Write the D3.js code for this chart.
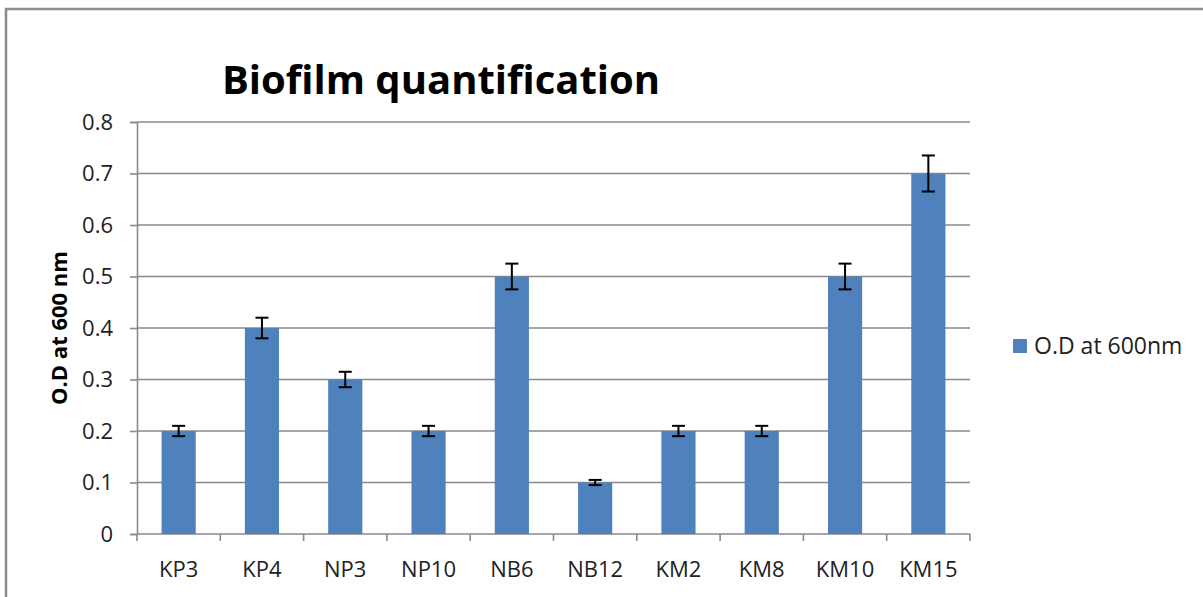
<!DOCTYPE html>
<html lang="en">
<head>
  <meta charset="UTF-8">
  <title>Biofilm quantification</title>
  <script src="https://d3js.org/d3.v7.min.js"></script>
  <style>
    body { margin: 0; background: #fff; }
    text { font-family: "Open Sans", "Noto Sans", sans-serif; fill: #222; }
    .grid line { stroke: #8a8a8a; stroke-width: 1.6; }
    .axis path, .axis line { stroke: #8a8a8a; stroke-width: 1.6; }
  </style>
</head>
<body>
  <div id="chart"></div>
  <script>
  var strains = ["KP3", "KP4", "NP3", "NP10", "NB6", "NB12", "KM2", "KM8", "KM10", "KM15"];
  var odValues = [0.2, 0.4, 0.3, 0.2, 0.5, 0.1, 0.2, 0.2, 0.5, 0.7];
  var odErrors = [0.01, 0.02, 0.015, 0.01, 0.025, 0.005, 0.01, 0.01, 0.025, 0.035];
  var yTicks = [0, 0.1, 0.2, 0.3, 0.4, 0.5, 0.6, 0.7, 0.8];

  var w = 1203, h = 597;
  var margin = {top: 122, right: 233, bottom: 63, left: 137};

  var svg = d3.select("#chart").append("svg")
    .attr("width", w)
    .attr("height", h);

  // chart frame (runs off the right/bottom edge in the original)
  svg.append("rect")
    .attr("x", 6).attr("y", 9)
    .attr("width", 1300).attr("height", 700)
    .attr("fill", "none")
    .attr("stroke", "#8c8c8c")
    .attr("stroke-width", 2.5);

  var x = d3.scaleBand()
    .domain(strains)
    .range([margin.left, w - margin.right])
    .paddingInner(0.59)
    .paddingOuter(0.295);

  var y = d3.scaleLinear()
    .domain([0, 0.8])
    .range([h - margin.bottom, margin.top]);

  // horizontal gridlines
  svg.append("g").attr("class", "grid")
    .selectAll("line")
    .data(yTicks.slice(1))
    .enter().append("line")
    .attr("x1", margin.left).attr("x2", w - margin.right)
    .attr("y1", d => y(d)).attr("y2", d => y(d));

  // y axis
  var yAxis = svg.append("g").attr("class", "axis")
    .attr("transform", "translate(" + margin.left + ",0)")
    .call(d3.axisLeft(y).tickValues(yTicks).tickSize(7).tickPadding(17)
      .tickFormat(d => d === 0 ? "0" : d3.format(".1f")(d)));
  yAxis.selectAll("text").style("font-size", "22px");

  // x axis with ticks at band edges
  var xAxis = svg.append("g").attr("class", "axis")
    .attr("transform", "translate(0," + y(0) + ")");
  xAxis.append("line")
    .attr("x1", margin.left).attr("x2", w - margin.right);
  var step = x.step();
  xAxis.selectAll(".edge")
    .data(d3.range(strains.length + 1))
    .enter().append("line")
    .attr("x1", i => margin.left + i * step)
    .attr("x2", i => margin.left + i * step)
    .attr("y1", 0).attr("y2", 7);
  xAxis.selectAll(".lbl")
    .data(strains)
    .enter().append("text")
    .attr("x", d => x(d) + x.bandwidth() / 2)
    .attr("y", 43)
    .attr("text-anchor", "middle")
    .style("font-size", "22px")
    .text(d => d);

  // bars
  svg.append("g")
    .selectAll("rect")
    .data(strains)
    .enter().append("rect")
    .attr("x", d => x(d))
    .attr("y", (d, i) => y(odValues[i]))
    .attr("width", x.bandwidth())
    .attr("height", (d, i) => y(0) - y(odValues[i]))
    .attr("fill", "#4f81bd");

  // error bars
  var err = svg.append("g").attr("stroke", "#000").attr("stroke-width", 2);
  strains.forEach(function(s, i) {
    var cx = x(s) + x.bandwidth() / 2;
    var hi = y(odValues[i] + odErrors[i]), lo = y(odValues[i] - odErrors[i]);
    err.append("line").attr("x1", cx).attr("x2", cx).attr("y1", hi).attr("y2", lo);
    err.append("line").attr("x1", cx - 6.5).attr("x2", cx + 6.5).attr("y1", hi).attr("y2", hi);
    err.append("line").attr("x1", cx - 6.5).attr("x2", cx + 6.5).attr("y1", lo).attr("y2", lo);
  });

  // title
  svg.append("text")
    .attr("x", 441).attr("y", 94)
    .attr("text-anchor", "middle")
    .style("font-size", "40px")
    .style("font-weight", "bold")
    .style("fill", "#000")
    .text("Biofilm quantification");

  // y axis title
  svg.append("text")
    .attr("transform", "translate(67,328) rotate(-90)")
    .attr("text-anchor", "middle")
    .style("font-size", "22px")
    .style("font-weight", "bold")
    .style("fill", "#000")
    .text("O.D at 600 nm");

  // legend
  var legend = svg.append("g").attr("transform", "translate(1013,339)");
  legend.append("rect").attr("width", 14).attr("height", 14).attr("fill", "#4f81bd");
  legend.append("text").attr("x", 21).attr("y", 15)
    .style("font-size", "23px")
    .text("O.D at 600nm");
  </script>
</body>
</html>
